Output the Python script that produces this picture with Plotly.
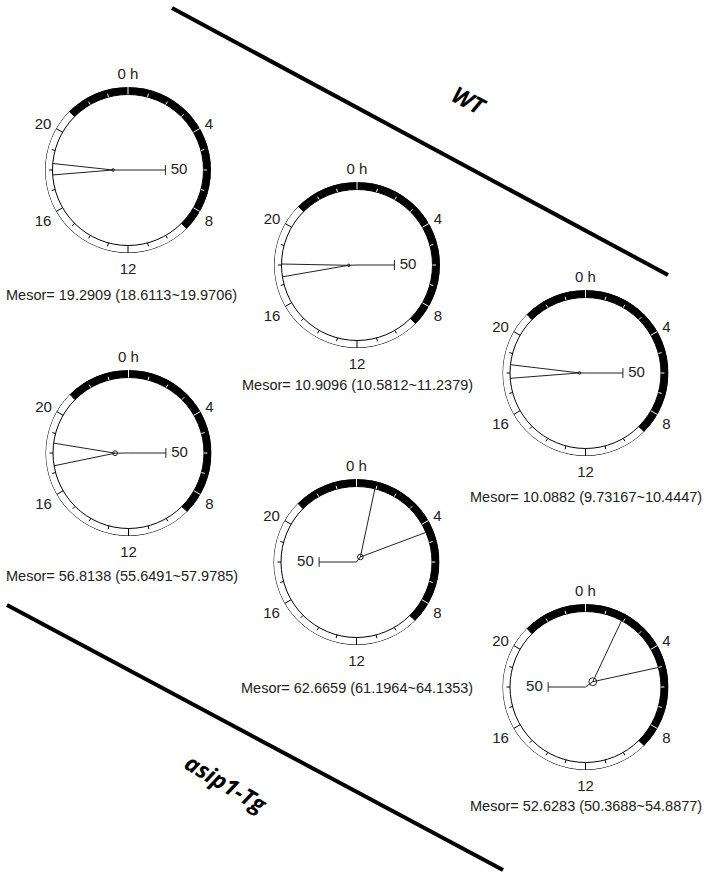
import plotly.graph_objects as go

W, H = 707, 875

# ---------------- data ----------------
groups = ["WT", "WT", "WT", "asip1-Tg", "asip1-Tg", "asip1-Tg"]
mesor = [19.2909, 10.9096, 10.0882, 56.8138, 62.6659, 52.6283]
mesor_lo = [18.6113, 10.5812, 9.73167, 55.6491, 61.1964, 50.3688]
mesor_hi = [19.9706, 11.2379, 10.4447, 57.9785, 64.1353, 54.8877]
amplitude = [20.0, 11.0, 8.0, 18.0, 8.5, 12.0]
amplitude_ci = [1.2, 1.2, 1.2, 2.3, 2.7, 3.7]
acrophase_h = [18.0, 17.85, 18.05, 17.95, 2.5, 3.6]
acrophase_lo_h = [17.75, 17.4, 17.73, 17.35, 0.94, 1.9]
acrophase_hi_h = [18.33, 18.05, 18.42, 18.5, 4.46, 5.0]
scale_dir_h = [6, 6, 6, 6, 18, 18]
hour_ticks = [0, 4, 8, 12, 16, 20]
hour_labels = ["0 h", "4", "8", "12", "16", "20"]
dark_start_h, dark_end_h = 21, 9
scale_amp = 50

# ---------------- geometry ----------------
DEG_PER_H = 360 / 24
R_IN, R_OUT = 101.0, 111.0          # ring band, amplitude units
PX_PER_UNIT = 37.5 / scale_amp
cx = [128, 357, 585.5, 128.5, 356.5, 585.5]
cy = [170, 265, 373, 453, 562, 687]
rad_px = 83
text_x = [121.5, 357, 586, 121.5, 357, 586]
text_y = [295, 385, 497, 576, 688, 806]

INK = "#222222"
FONT = "Liberation Sans, Arial, sans-serif"

fig = go.Figure()
layout_polars = {}

for i in range(6):
    sub = "polar" if i == 0 else f"polar{i + 1}"

    # light / dark ring
    dark_len = (dark_end_h - dark_start_h) % 24
    light_len = 24 - dark_len
    dark_mid = (dark_start_h + dark_len / 2) % 24
    light_mid = (dark_end_h + light_len / 2) % 24
    fig.add_trace(go.Barpolar(
        subplot=sub,
        theta=[dark_mid * DEG_PER_H, light_mid * DEG_PER_H],
        width=[dark_len * DEG_PER_H, light_len * DEG_PER_H],
        base=[R_IN, R_IN], r=[R_OUT - R_IN, R_OUT - R_IN],
        marker=dict(color=["black", "white"], line=dict(color="black", width=1)),
        hoverinfo="skip", showlegend=False,
    ))

    # hourly ticks on the ring
    for colour, in_dark in (("white", True), ("black", False)):
        rr, tt = [], []
        for h in range(24):
            is_dark = (h - dark_start_h) % 24 < dark_len and h not in (dark_start_h, dark_end_h)
            if is_dark != in_dark:
                continue
            outer = R_OUT if h % 4 == 0 else R_IN + 4.5
            rr += [R_IN, outer, None]
            tt += [h * DEG_PER_H, h * DEG_PER_H, None]
        fig.add_trace(go.Scatterpolar(
            subplot=sub, r=rr, theta=tt, mode="lines",
            line=dict(color=colour, width=1), hoverinfo="skip", showlegend=False,
        ))

    amp = amplitude[i]
    phi = acrophase_h[i] * DEG_PER_H

    # acrophase confidence wedge
    fig.add_trace(go.Scatterpolar(
        subplot=sub,
        r=[R_IN, amp, R_IN],
        theta=[acrophase_lo_h[i] * DEG_PER_H, phi, acrophase_hi_h[i] * DEG_PER_H],
        mode="lines", line=dict(color=INK, width=1),
        hoverinfo="skip", showlegend=False,
    ))
    # amplitude vector
    fig.add_trace(go.Scatterpolar(
        subplot=sub, r=[0, amp], theta=[phi, phi], mode="lines",
        line=dict(color=INK, width=1), hoverinfo="skip", showlegend=False,
    ))
    # confidence ellipse at the vector tip
    fig.add_trace(go.Scatterpolar(
        subplot=sub, r=[amp], theta=[phi], mode="markers",
        marker=dict(symbol="circle-open", size=2 * amplitude_ci[i] * PX_PER_UNIT * 1.4,
                    color=INK, line=dict(width=1)),
        hoverinfo="skip", showlegend=False,
    ))

    # amplitude scale bar
    sdir = scale_dir_h[i] * DEG_PER_H
    fig.add_trace(go.Scatterpolar(
        subplot=sub, r=[0, scale_amp], theta=[sdir, sdir], mode="lines",
        line=dict(color=INK, width=1), hoverinfo="skip", showlegend=False,
    ))
    fig.add_trace(go.Scatterpolar(
        subplot=sub, r=[scale_amp], theta=[sdir], mode="markers+text",
        marker=dict(symbol="line-ns", size=7, line=dict(color=INK, width=1)),
        text=[str(scale_amp)],
        textposition="middle right" if scale_dir_h[i] == 6 else "middle left",
        textfont=dict(family=FONT, size=15, color=INK),
        cliponaxis=False, hoverinfo="skip", showlegend=False,
    ))

    layout_polars[sub] = dict(
        domain=dict(
            x=[(cx[i] - rad_px) / W, (cx[i] + rad_px) / W],
            y=[1 - (cy[i] + rad_px) / H, 1 - (cy[i] - rad_px) / H],
        ),
        bgcolor="rgba(0,0,0,0)",
        barmode="overlay",
        radialaxis=dict(visible=False, range=[0, R_OUT]),
        angularaxis=dict(
            rotation=90, direction="clockwise",
            tickmode="array",
            tickvals=[h * DEG_PER_H for h in hour_ticks],
            ticktext=hour_labels,
            ticks="outside", ticklen=2, tickcolor="rgba(0,0,0,0)",
            showgrid=False, showline=False,
            tickfont=dict(family=FONT, size=15, color=INK),
        ),
    )

annotations = []
for i in range(6):
    annotations.append(dict(
        x=text_x[i] / W, y=1 - text_y[i] / H, xref="paper", yref="paper",
        text=f"Mesor= {mesor[i]:g} ({mesor_lo[i]:g}~{mesor_hi[i]:g})",
        showarrow=False, xanchor="center", yanchor="middle",
        font=dict(family=FONT, size=14.5, color=INK),
    ))

# group labels along the dividers
group_font = dict(family="Open Sans, sans-serif", size=23, color="black")
annotations.append(dict(
    x=469 / W, y=1 - 100 / H, xref="paper", yref="paper",
    xanchor="center", yanchor="middle",
    text=f"<b><i>{groups[0]}</i></b>", showarrow=False, textangle=28,
    font=group_font,
))
annotations.append(dict(
    x=226 / W, y=1 - 783 / H, xref="paper", yref="paper",
    xanchor="center", yanchor="middle",
    text=f"<b><i>{groups[3]}</i></b>", showarrow=False, textangle=31,
    font=group_font,
))

shapes = [
    dict(type="line", xref="paper", yref="paper",
         x0=172 / W, y0=1 - 8 / H, x1=668 / W, y1=1 - 275 / H,
         line=dict(color="black", width=4)),
    dict(type="line", xref="paper", yref="paper",
         x0=7 / W, y0=1 - 605 / H, x1=503 / W, y1=1 - 870 / H,
         line=dict(color="black", width=4)),
]

fig.update_layout(
    width=W, height=H,
    margin=dict(l=0, r=0, t=0, b=0),
    paper_bgcolor="white", plot_bgcolor="white",
    showlegend=False,
    annotations=annotations, shapes=shapes,
    **layout_polars,
)

fig.write_html("out.html", config={"displayModeBar": False})
